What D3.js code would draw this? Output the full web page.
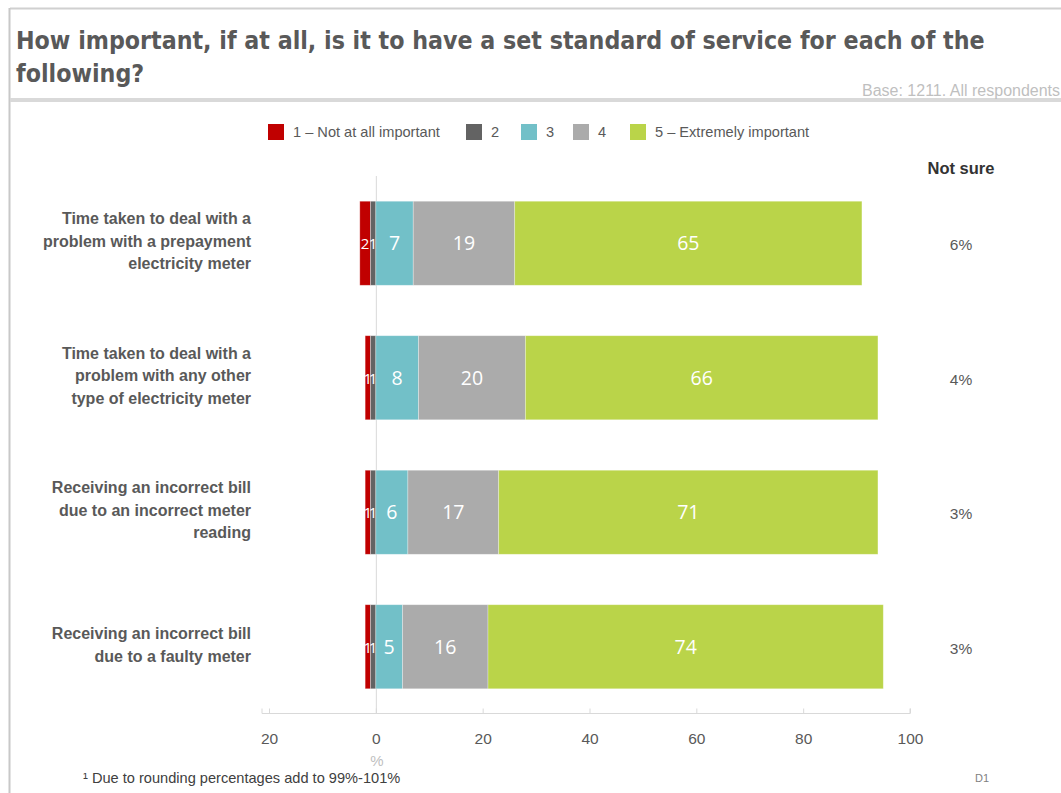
<!DOCTYPE html>
<html><head><meta charset="utf-8">
<script src="https://cdn.jsdelivr.net/npm/d3@7"></script>
<style>
body{margin:0;background:#fff;}
svg{display:block;}
</style></head>
<body>
<svg id="chart" width="1061" height="793"></svg>
<script>
const categories = [
  ["Time taken to deal with a","problem with a prepayment","electricity meter"],
  ["Time taken to deal with a","problem with any other","type of electricity meter"],
  ["Receiving an incorrect bill","due to an incorrect meter","reading"],
  ["Receiving an incorrect bill","due to a faulty meter"]
];
const seriesNames = ["1 – Not at all important","2","3","4","5 – Extremely important"];
const s1 = [2,1,1,1];
const s2 = [1,1,1,1];
const s3 = [7,8,6,5];
const s4 = [19,20,17,16];
const s5 = [65,66,71,74];
const notSure = ["6%","4%","3%","3%"];
const ticks = [-20,0,20,40,60,80,100];
const colors = ["#C00000","#636363","#72C0C8","#ABABAB","#BAD449"];

const svg = d3.select("#chart");
const grey = "#595959";

// frame
svg.append("line").attr("x1",10).attr("x2",1061).attr("y1",8.5).attr("y2",8.5).attr("stroke","#d0d0d0").attr("stroke-width",2);
svg.append("line").attr("x1",9.5).attr("x2",9.5).attr("y1",8).attr("y2",793).attr("stroke","#c8c8c8").attr("stroke-width",2);
svg.append("line").attr("x1",10).attr("x2",1061).attr("y1",100).attr("y2",100).attr("stroke","#d9d9d9").attr("stroke-width",4);

// title
const t1 = svg.append("text").attr("x",16).attr("y",49).attr("fill",grey)
  .style("font-family","'DejaVu Sans Condensed','DejaVu Sans',sans-serif").style("font-weight","bold").style("font-size","26px")
  .text("How important, if at all, is it to have a set standard of service for each of the");
const w = t1.node().getComputedTextLength();
const fs = 26*969/w;
t1.style("font-size",fs+"px");
svg.append("text").attr("x",16).attr("y",82).attr("fill",grey)
  .style("font-family","'DejaVu Sans Condensed','DejaVu Sans',sans-serif").style("font-weight","bold").style("font-size",fs+"px")
  .text("following?");
svg.append("text").attr("x",862).attr("y",96).attr("fill","#bfbfbf")
  .style("font-family","'Liberation Sans',Arial,sans-serif").style("font-size","16px")
  .text("Base: 1211. All respondents");

// scales
const x = d3.scaleLinear().domain([-20,100]).range([269,910]);
const y = d3.scaleBand().domain(d3.range(categories.length)).range([176,714]).paddingInner(0.375).paddingOuter(0.1875);

// legend
const legX = [268,466,521,573,630];
const leg = svg.append("g").style("font-family","'Liberation Sans',Arial,sans-serif").style("font-size","14.6px");
seriesNames.forEach((n,i)=>{
  leg.append("rect").attr("x",legX[i]).attr("y",124).attr("width",16).attr("height",16).attr("fill",colors[i]);
  leg.append("text").attr("x",legX[i]+25).attr("y",137).attr("fill",grey).text(n);
});

// zero line
svg.append("line").attr("x1",x(0)+0.5).attr("x2",x(0)+0.5).attr("y1",176).attr("y2",713).attr("stroke","#d9d9d9");

// stacked segments
const rows = categories.map((c,i)=>{
  const segs = [];
  segs.push({v:s1[i], x0:-(s1[i]+s2[i]), x1:-s2[i], c:0});
  segs.push({v:s2[i], x0:-s2[i], x1:0, c:1});
  segs.push({v:s3[i], x0:0, x1:s3[i], c:2});
  segs.push({v:s4[i], x0:s3[i], x1:s3[i]+s4[i], c:3});
  segs.push({v:s5[i], x0:s3[i]+s4[i], x1:s3[i]+s4[i]+s5[i], c:4});
  return {i, segs};
});
const g = svg.append("g");
rows.forEach(r=>{
  r.segs.forEach(s=>{
    g.append("rect").attr("x",x(s.x0)).attr("y",y(r.i)).attr("width",x(s.x1)-x(s.x0)).attr("height",y.bandwidth())
      .attr("fill",colors[s.c]).attr("stroke","#fff").attr("stroke-opacity",0.4).attr("stroke-width",0.75);
  });
  r.segs.forEach(s=>{
    const small = (x(s.x1)-x(s.x0)) < 12;
    g.append("text").attr("x",(x(s.x0)+x(s.x1))/2).attr("y",y(r.i)+y.bandwidth()/2+(small?6:7))
      .attr("text-anchor","middle").attr("fill","#fff")
      .style("font-family","'Open Sans','Noto Sans',sans-serif").style("font-size",small?"15px":"19.5px")
      .text(s.v);
  });
});

// category labels
const cl = svg.append("g").style("font-family","'Liberation Sans',Arial,sans-serif").style("font-size","16px").style("font-weight","bold").attr("fill",grey);
categories.forEach((lines,i)=>{
  const cy = y(i)+y.bandwidth()/2;
  const lh = 22.5;
  const start = cy - (lines.length-1)*lh/2 + 3.5;
  lines.forEach((l,j)=>{
    cl.append("text").attr("x",251).attr("y",start+j*lh).attr("text-anchor","end").text(l);
  });
});

// not sure
svg.append("text").attr("x",961).attr("y",174).attr("text-anchor","middle").attr("fill","#333")
  .style("font-family","'Liberation Sans',Arial,sans-serif").style("font-size","16.5px").style("font-weight","bold").text("Not sure");
notSure.forEach((v,i)=>{
  svg.append("text").attr("x",961).attr("y",y(i)+y.bandwidth()/2+7).attr("text-anchor","middle").attr("fill",grey)
    .style("font-family","'Liberation Sans',Arial,sans-serif").style("font-size","15.5px").text(v);
});

// axis
const axis = d3.axisTop(x).tickValues(ticks).tickSize(5).tickFormat(d=>Math.abs(d));
const ag = svg.append("g").attr("transform","translate(0,713.5)").call(axis);
ag.select(".domain").attr("stroke","#d9d9d9").attr("d",`M${x(-20)-7},-5V0H${x(100)}V-5`);
ag.selectAll(".tick line").attr("stroke","#d9d9d9");
ag.selectAll(".tick text").attr("y",30).attr("fill",grey).style("font-family","'Liberation Sans',Arial,sans-serif").style("font-size","15.5px");
svg.append("text").attr("x",x(0)+1).attr("y",766).attr("text-anchor","middle").attr("fill","#bfbfbf")
  .style("font-family","'Liberation Sans',Arial,sans-serif").style("font-size","15px").text("%");

// footnote
svg.append("text").attr("x",83).attr("y",783).attr("fill","#404040")
  .style("font-family","'Liberation Sans',Arial,sans-serif").style("font-size","14.6px").text("¹ Due to rounding percentages add to 99%-101%");
svg.append("text").attr("x",975).attr("y",782).attr("fill","#7f7f7f")
  .style("font-family","'Liberation Sans',Arial,sans-serif").style("font-size","11px").text("D1");
</script>
</body></html>
